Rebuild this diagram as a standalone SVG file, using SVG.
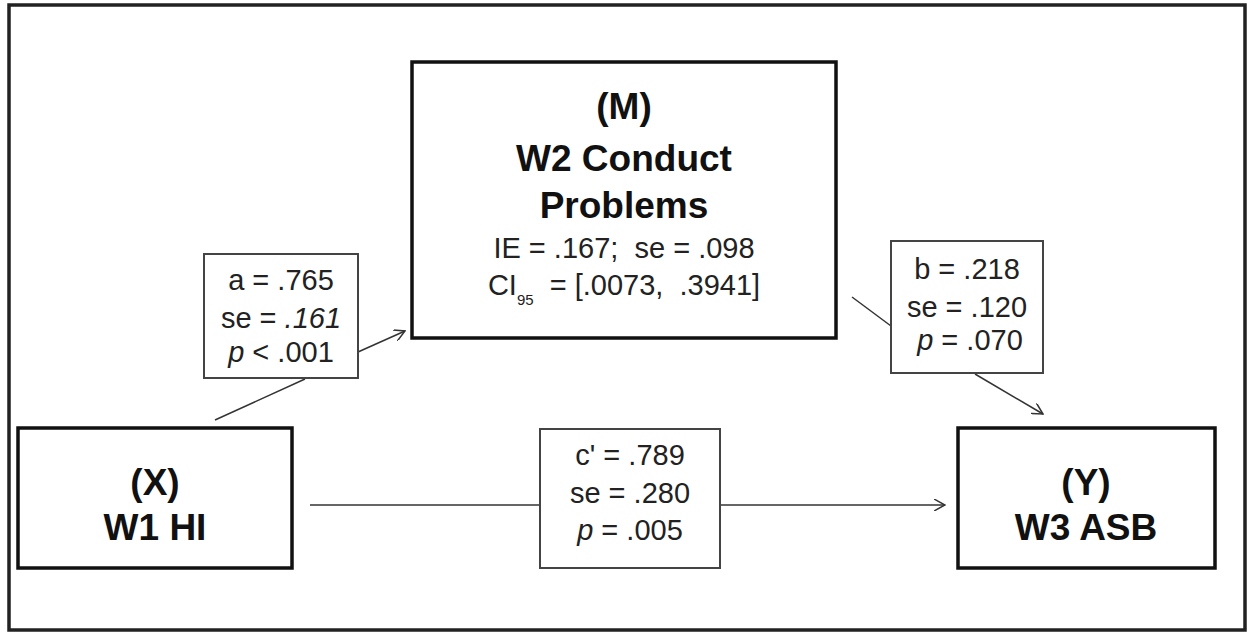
<svg xmlns="http://www.w3.org/2000/svg" width="1254" height="634" viewBox="0 0 1254 634">
<defs>
<marker id="arr" viewBox="0 0 12 12" refX="11" refY="6" markerWidth="12" markerHeight="12" markerUnits="userSpaceOnUse" orient="auto">
<path d="M0,0 L11,6 L0,12" fill="none" stroke="#333" stroke-width="1.5"/>
</marker>
<style>
.node{fill:#fff;stroke:#111;stroke-width:3.5}
.lab{fill:#fff;stroke:#444;stroke-width:2}
.bt{font-family:"Liberation Sans",Arial,sans-serif;font-weight:bold;font-size:37px;fill:#111;text-anchor:middle}
.t{font-family:"Liberation Sans",Arial,sans-serif;font-size:29px;fill:#222;text-anchor:middle}
.c{fill:none;stroke:#333;stroke-width:1.5}
</style>
</defs>
<rect width="1254" height="634" fill="#fff"/>
<rect x="9" y="5" width="1236" height="625" fill="none" stroke="#222" stroke-width="3.5"/>
<g id="connectors">
<line class="c" x1="215" y1="420" x2="305" y2="379"/>
<line class="c" x1="358" y1="352" x2="405" y2="331" marker-end="url(#arr)"/>
<line class="c" x1="852" y1="297" x2="891" y2="326"/>
<line class="c" x1="975" y1="374" x2="1043" y2="414" marker-end="url(#arr)"/>
<line class="c" x1="310" y1="505" x2="540" y2="505"/>
<line class="c" x1="720" y1="505" x2="945" y2="505" marker-end="url(#arr)"/>
</g>
<g id="M">
<rect class="node" x="412" y="62" width="424" height="276"/>
<text class="bt" x="624" y="119">(M)</text>
<text class="bt" x="624" y="171">W2 Conduct</text>
<text class="bt" x="624" y="218">Problems</text>
<text class="t" x="624" y="258" xml:space="preserve">IE = .167;  se = .098</text>
<text class="t" x="624" y="295" xml:space="preserve">CI<tspan font-size="15" dy="10">95</tspan><tspan dy="-10">  = [.0073,  .3941]</tspan></text>
</g>
<g id="X">
<rect class="node" x="18" y="428" width="274" height="140"/>
<text class="bt" x="155" y="495">(X)</text>
<text class="bt" x="155" y="540">W1 HI</text>
</g>
<g id="Y">
<rect class="node" x="958" y="428" width="257" height="140"/>
<text class="bt" x="1086" y="495">(Y)</text>
<text class="bt" x="1086" y="540">W3 ASB</text>
</g>
<g id="a-label">
<rect class="lab" x="204" y="254" width="154" height="124"/>
<text class="t" x="281" y="290">a = .765</text>
<text class="t" x="281" y="328">se = <tspan font-style="italic">.161</tspan></text>
<text class="t" x="281" y="362"><tspan font-style="italic">p</tspan> &lt; .001</text>
</g>
<g id="b-label">
<rect class="lab" x="891" y="241" width="152" height="132"/>
<text class="t" x="967" y="279">b = .218</text>
<text class="t" x="967" y="317">se = .120</text>
<text class="t" x="970" y="350"><tspan font-style="italic">p</tspan> = .070</text>
</g>
<g id="c-label">
<rect class="lab" x="540" y="429" width="180" height="139"/>
<text class="t" x="630" y="465">c' = .789</text>
<text class="t" x="630" y="503">se = .280</text>
<text class="t" x="630" y="540"><tspan font-style="italic">p</tspan> = .005</text>
</g>
</svg>
